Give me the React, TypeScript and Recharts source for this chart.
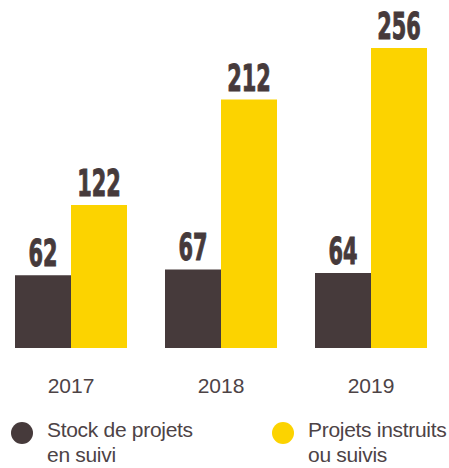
import { Bar, BarChart, LabelList, XAxis, YAxis } from "recharts";

const years = ["2017", "2018", "2019"];
const stock = [62, 67, 64];
const instruits = [122, 212, 256];
const legendItems = ["Stock de projets\nen suivi", "Projets instruits\nou suivis"];

const DARK = "#463a3b";
const YELLOW = "#fcd300";
const TEXT = "#4d4346";

const data = years.map((year, i) => ({ year, stock: stock[i], instruits: instruits[i] }));

function ValueLabel(props: any) {
  const { x, y, width, value } = props;
  const txt = String(value);
  return (
    <text
      x={x + width / 2}
      y={y - 9}
      textAnchor="middle"
      fill={DARK}
      stroke={DARK}
      strokeWidth={1}
      fontFamily="'Liberation Sans Narrow', 'DejaVu Sans Condensed', sans-serif"
      fontWeight={700}
      fontSize={37}
      textLength={txt.length * 14.5}
      lengthAdjust="spacingAndGlyphs"
    >
      {txt}
    </text>
  );
}

function YearTick(props: any) {
  const { x, y, payload } = props;
  return (
    <text x={x} y={y + 37} textAnchor="middle" fill={TEXT} fontFamily="'Liberation Sans', Arial, sans-serif" fontSize={21}>
      {payload.value}
    </text>
  );
}

export default function App() {
  return (
    <div style={{ position: "absolute", left: 0, top: 0, width: 449, height: 468, background: "#fff" }}>
      <BarChart width={449} height={400} data={data} margin={{ top: 48, right: 3, left: -4, bottom: 0 }} barGap={0}>
        <XAxis dataKey="year" axisLine={false} tickLine={false} height={52} tick={<YearTick />} interval={0} />
        <YAxis hide domain={[0, 256]} />
        <Bar dataKey="stock" fill={DARK} barSize={56} isAnimationActive={false}>
          <LabelList dataKey="stock" content={<ValueLabel />} />
        </Bar>
        <Bar dataKey="instruits" fill={YELLOW} barSize={56} isAnimationActive={false}>
          <LabelList dataKey="instruits" content={<ValueLabel />} />
        </Bar>
      </BarChart>
      {legendItems.map((label, i) => (
        <div
          key={label}
          style={{
            position: "absolute",
            left: i === 0 ? 11 : 272,
            top: 417,
            display: "flex",
            alignItems: "flex-start",
            fontFamily: "'Liberation Sans', Arial, sans-serif",
            fontSize: 21,
            letterSpacing: "-0.3px",
            lineHeight: "25px",
            color: TEXT,
          }}
        >
          <span
            style={{
              display: "inline-block",
              width: 22,
              height: 22,
              borderRadius: "50%",
              background: i === 0 ? DARK : YELLOW,
              marginTop: 5,
              marginRight: 14,
            }}
          />
          <span style={{ whiteSpace: "pre" }}>{label}</span>
        </div>
      ))}
    </div>
  );
}
